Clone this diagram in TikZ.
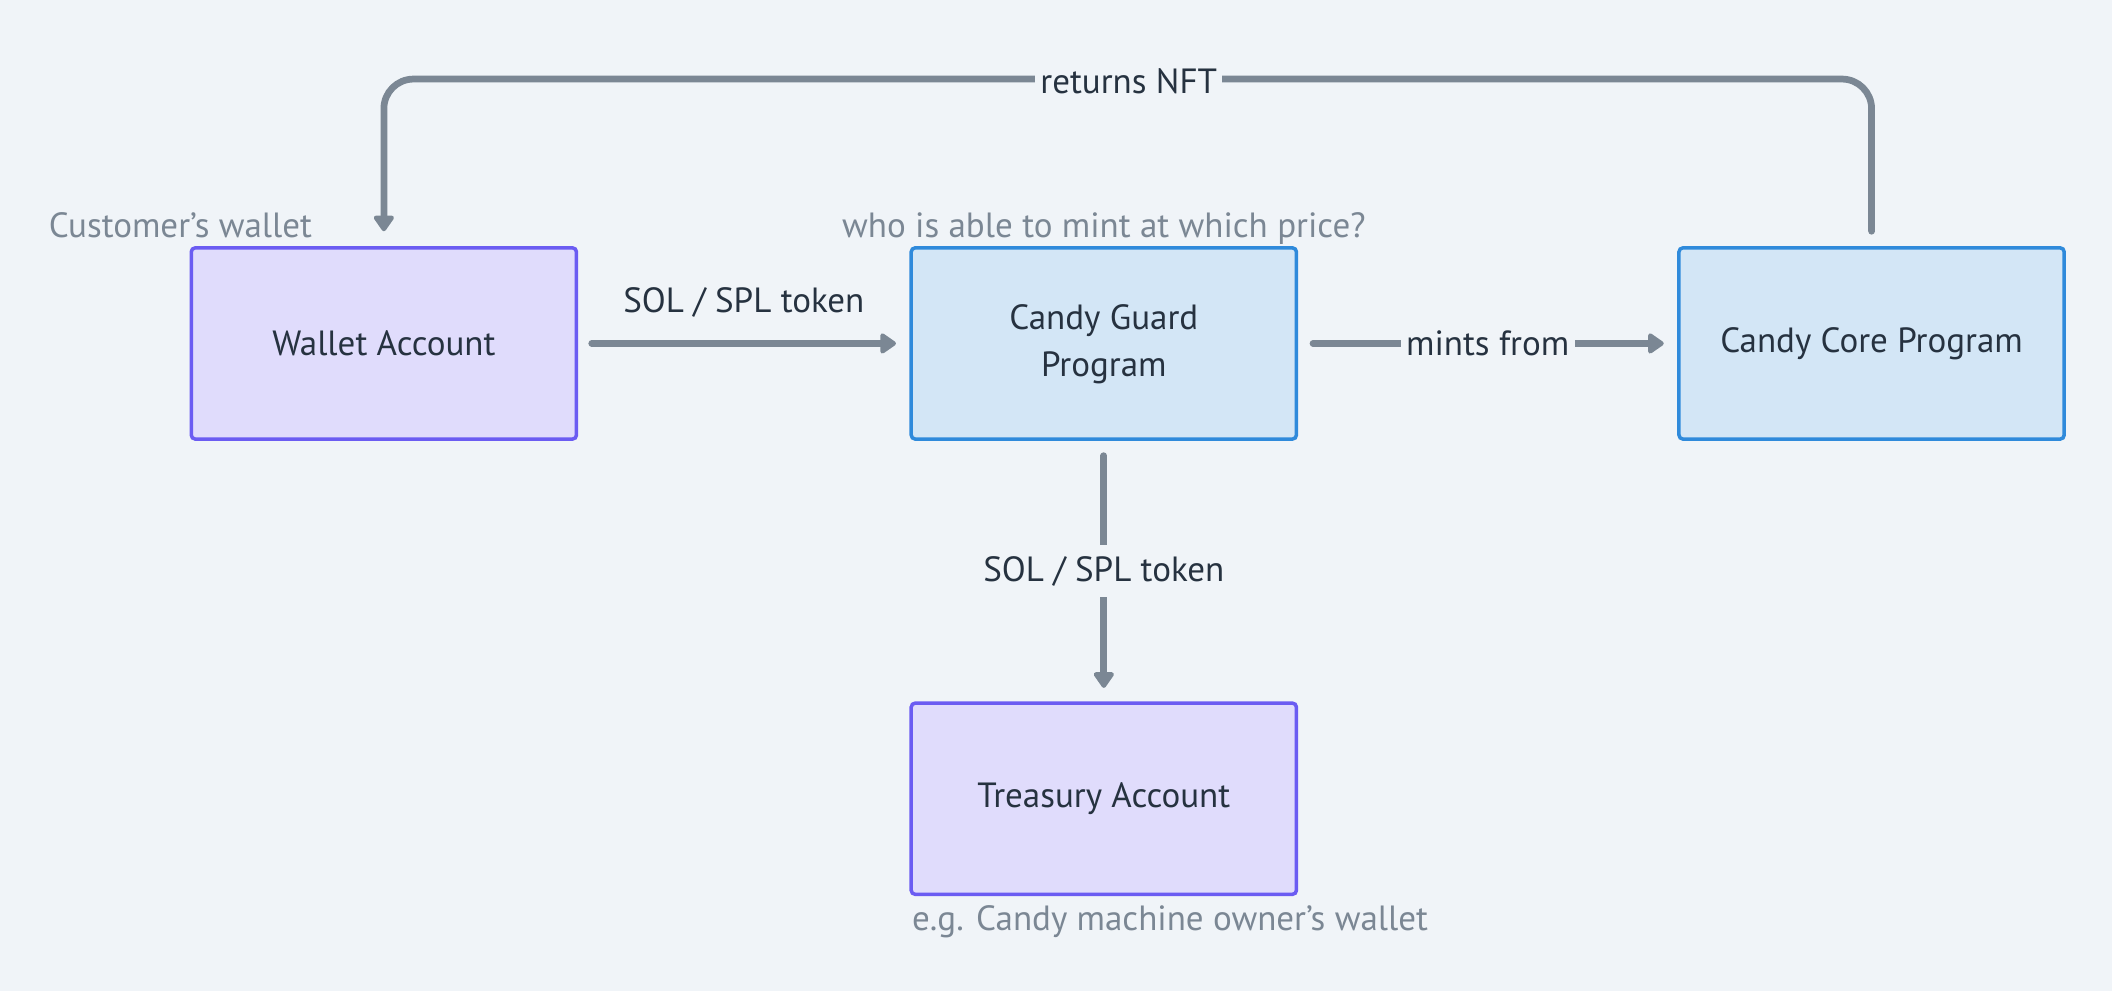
\documentclass[tikz,border=0pt]{standalone}
\usepackage{fontspec}
\setmainfont{PT Sans}
\usetikzlibrary{arrows.meta,calc}
\definecolor{bg}{HTML}{F0F4F8}
\definecolor{pfill}{HTML}{E0DCFC}
\definecolor{pdraw}{HTML}{6B5CF2}
\definecolor{bfill}{HTML}{D3E6F6}
\definecolor{bdraw}{HTML}{2F8ADB}
\definecolor{conncol}{HTML}{7B8794}
\definecolor{txt}{HTML}{263240}
\definecolor{note}{HTML}{7B8794}
\tikzset{
  x=1pt, y=1pt,
  box/.style={rectangle, rounded corners=3pt, line width=2.6pt, minimum width=286pt, minimum height=142pt, align=center, text=txt, font=\fontsize{26}{35}\selectfont, inner sep=0pt},
  acct/.style={box, fill=pfill, draw=pdraw},
  prog/.style={box, fill=bfill, draw=bdraw},
  conn/.style={draw=conncol, line width=5pt, line cap=round, -{Triangle[width=17pt,length=13pt,round]}},
  lbl/.style={text=txt, font=\fontsize{26}{30}\selectfont, inner sep=4pt},
  notelbl/.style={text=note, font=\fontsize{26}{30}\selectfont, inner sep=0pt},
}
\begin{document}
\begin{tikzpicture}
\fill[bg] (0,0) rectangle (1568,736);
\useasboundingbox (0,0) rectangle (1568,736);

\node[acct] (wallet) at (285,481) {Wallet Account};
\node[prog] (guard) at (819.5,481) {\raisebox{-3pt}{\begin{tabular}{@{}c@{}}Candy Guard\\Program\end{tabular}}};
\node[prog] (core) at (1389.5,481) {Candy Core Program};
\node[acct] (treasury) at (819.5,143) {Treasury Account};

\node[notelbl, anchor=base west] (custnote) at (36,560) {Customer’s wallet};
\node[notelbl, anchor=base] (guardnote) at (819.5,560) {who is able to mint at which price?};
\node[notelbl, anchor=west] (treasnote) at (677,52) {e.g. Candy machine owner’s wallet};

% wallet -> guard
\draw[conn, shorten <=10pt, shorten >=10pt] (wallet.east) -- node[lbl, above=13pt] (sol1) {SOL / SPL token} (guard.west);

% guard -> core
\draw[conn, shorten <=11pt, shorten >=10pt] (guard.east) -- node[lbl, fill=bg] (mints) {mints from} (core.west);

% guard -> treasury
\draw[conn, shorten <=11pt, shorten >=10pt] (guard.south) -- node[lbl, fill=bg, inner sep=8pt] (sol2) {SOL / SPL token} (treasury.north);

% core -> wallet (returns NFT)
\coordinate (rs) at ($(core.north)+(0,11)$);
\coordinate (re) at ($(wallet.north)+(0,11)$);
\draw[conn, rounded corners=22pt] (rs) -- ($(core.north)+(0,124)$) -- ($(wallet.north)+(0,124)$) -- (re);
\node[lbl, fill=bg] (ret) at (838,676) {returns NFT};
\end{tikzpicture}
\end{document}
